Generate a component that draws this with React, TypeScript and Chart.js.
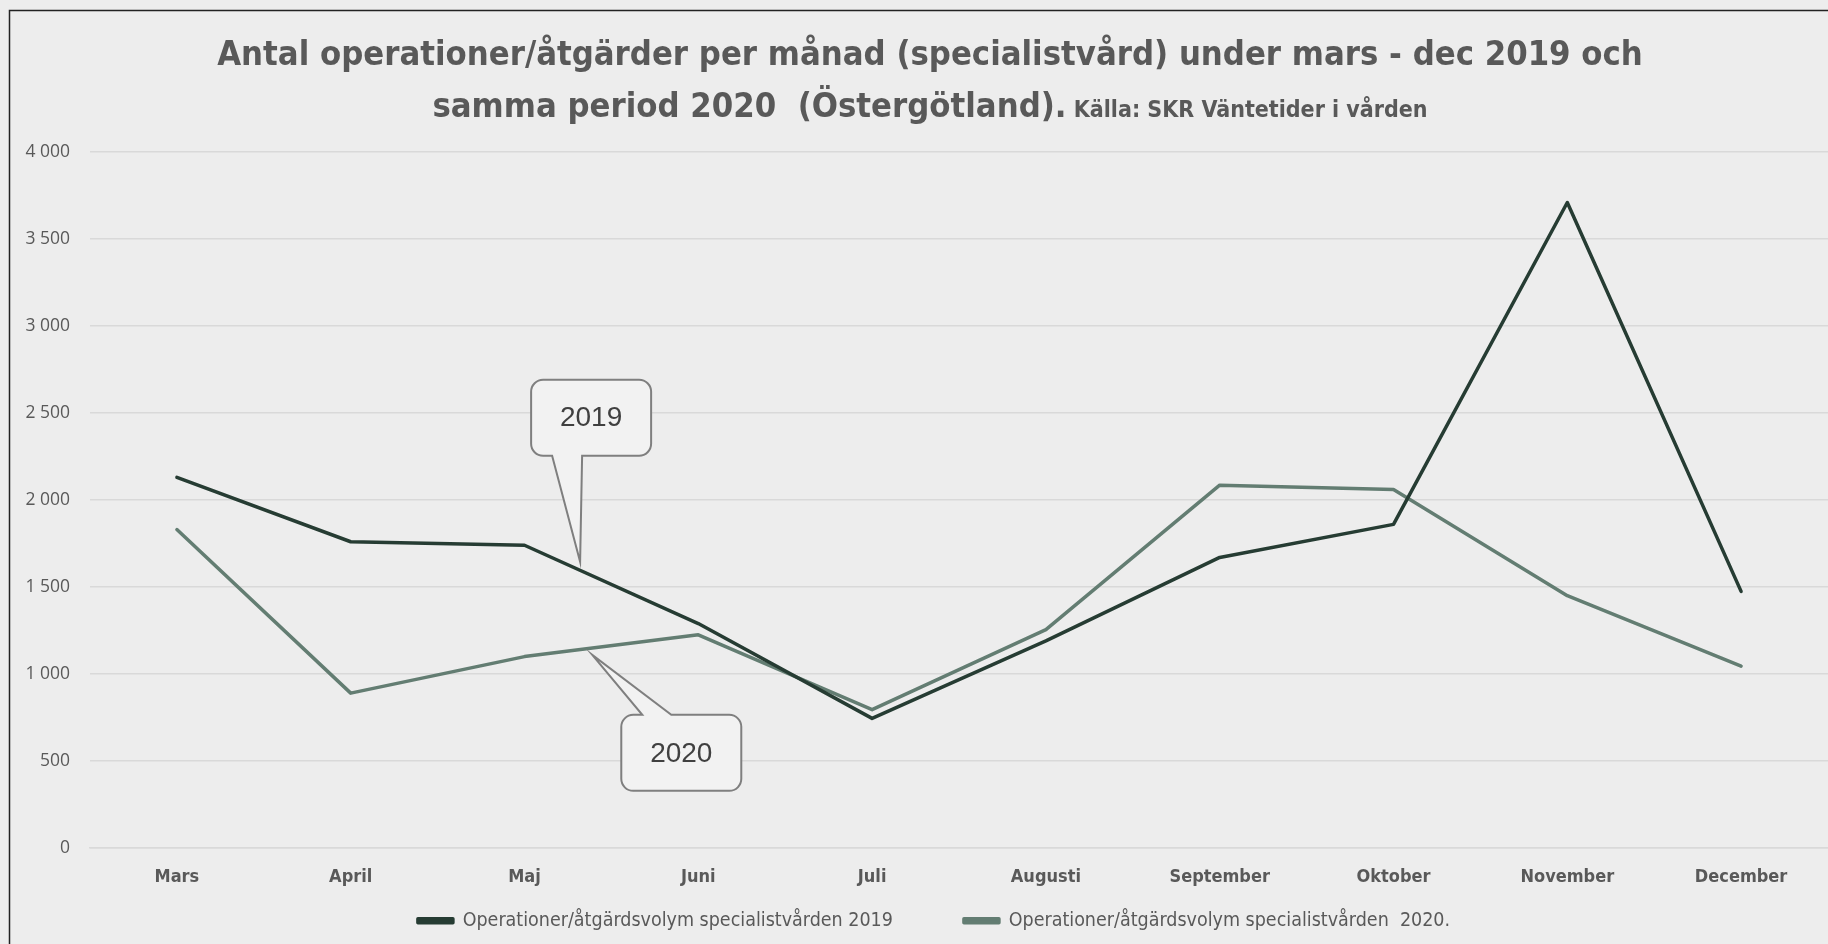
import React, { useEffect, useRef } from "react";
import { Chart, registerables } from "chart.js";

Chart.register(...registerables);

const months = ["Mars", "April", "Maj", "Juni", "Juli", "Augusti", "September", "Oktober", "November", "December"];
const values2019 = [2130, 1760, 1740, 1290, 745, 1190, 1670, 1860, 3710, 1475];
const values2020 = [1830, 890, 1100, 1225, 795, 1255, 2085, 2060, 1450, 1045];
const label2019 = "Operationer/åtgärdsvolym specialistvården 2019";
const label2020 = "Operationer/åtgärdsvolym specialistvården  2020.";
const titleLine1 = "Antal operationer/åtgärder per månad (specialistvård) under mars - dec 2019 och";
const titleLine2Main = "samma period 2020  (Östergötland).";
const titleLine2Source = " Källa: SKR Väntetider i vården";
// callouts: [text, anchor index, anchor value]
const callouts: [string, number, number][] = [
  ["2019", 2.32, 1645],
  ["2020", 2.39, 1110],
];

const COND = '"Liberation Sans Narrow", "DejaVu Sans Condensed", "Roboto Condensed", sans-serif';
const TEXT = "#595959";
const LEGEND_PAD = 71;

const legendFix = {
  id: "legendFix",
  beforeLayout(chart: any) {
    const lg = chart.legend;
    if (lg && !lg.__patched) {
      const orig = lg.fit;
      lg.fit = function () {
        orig.call(this);
        this.height = 48;
      };
      lg.__patched = true;
    }
  },
  afterLayout(chart: any) {
    const lg = chart.legend;
    if (!lg) return;
    // keep the legend row close to the axis labels; only the top edge moves
    lg.top -= LEGEND_PAD - 15;
    lg.left += 15;
    lg.right += 15;
  },
};

const decorPlugin = {
  id: "decor",
  beforeDraw(chart: any) {
    const ctx = chart.ctx as CanvasRenderingContext2D;
    ctx.save();
    ctx.fillStyle = "#ededed";
    ctx.fillRect(0, 0, chart.width, chart.height);
    ctx.strokeStyle = "#222";
    ctx.lineWidth = 1.5;
    ctx.beginPath();
    ctx.moveTo(9.5, chart.height + 5);
    ctx.lineTo(9.5, 10.5);
    ctx.lineTo(chart.width + 5, 10.5);
    ctx.stroke();
    ctx.restore();
  },
  afterDraw(chart: any) {
    const ctx = chart.ctx as CanvasRenderingContext2D;
    const cx = 930;
    ctx.save();
    ctx.fillStyle = TEXT;
    ctx.textAlign = "center";
    ctx.textBaseline = "alphabetic";
    const big = `bold 34.3px ${COND}`;
    const small = `bold 23px ${COND}`;
    ctx.font = big;
    ctx.fillText(titleLine1, cx, 65);
    const w1 = ctx.measureText(titleLine2Main).width;
    ctx.font = small;
    const w2 = ctx.measureText(titleLine2Source).width;
    const x0 = cx - (w1 + w2) / 2;
    ctx.textAlign = "left";
    ctx.font = big;
    ctx.fillText(titleLine2Main, x0, 117);
    ctx.font = small;
    ctx.fillText(titleLine2Source, x0 + w1, 117);

    // callouts
    const xs = chart.scales.x;
    const ys = chart.scales.y;
    callouts.forEach(([txt, idx, val], i) => {
      const tx = xs.getPixelForValue(idx);
      const ty = ys.getPixelForValue(val);
      const bw = 120, bh = 76, r = 12;
      let bx: number, by: number;
      ctx.beginPath();
      if (i === 0) {
        bx = tx - 49; by = ty - 182;
        const b1 = bx + 21, b2 = bx + 51, baseY = by + bh;
        ctx.moveTo(bx + r, by);
        ctx.lineTo(bx + bw - r, by);
        ctx.arcTo(bx + bw, by, bx + bw, by + r, r);
        ctx.lineTo(bx + bw, by + bh - r);
        ctx.arcTo(bx + bw, by + bh, bx + bw - r, by + bh, r);
        ctx.lineTo(b2, baseY);
        ctx.lineTo(tx, ty);
        ctx.lineTo(b1, baseY);
        ctx.lineTo(bx + r, by + bh);
        ctx.arcTo(bx, by + bh, bx, by + bh - r, r);
        ctx.lineTo(bx, by + r);
        ctx.arcTo(bx, by, bx + r, by, r);
      } else {
        bx = tx + 29; by = ty + 60;
        const b1 = bx + 21, b2 = bx + 50, baseY = by;
        ctx.moveTo(bx + r, by);
        ctx.lineTo(b1, baseY);
        ctx.lineTo(tx, ty);
        ctx.lineTo(b2, baseY);
        ctx.lineTo(bx + bw - r, by);
        ctx.arcTo(bx + bw, by, bx + bw, by + r, r);
        ctx.lineTo(bx + bw, by + bh - r);
        ctx.arcTo(bx + bw, by + bh, bx + bw - r, by + bh, r);
        ctx.lineTo(bx + r, by + bh);
        ctx.arcTo(bx, by + bh, bx, by + bh - r, r);
        ctx.lineTo(bx, by + r);
        ctx.arcTo(bx, by, bx + r, by, r);
      }
      ctx.closePath();
      ctx.fillStyle = "#f2f2f2";
      ctx.fill();
      ctx.strokeStyle = "#7f7f7f";
      ctx.lineWidth = 2;
      ctx.stroke();
      ctx.fillStyle = "#404040";
      ctx.font = '28px "Liberation Sans", Arial, sans-serif';
      ctx.textAlign = "center";
      ctx.textBaseline = "middle";
      ctx.fillText(txt, bx + bw / 2, by + bh / 2 + 1);
    });
    ctx.restore();
  },
};

export default function App() {
  const ref = useRef<HTMLCanvasElement>(null);
  useEffect(() => {
    document.body.style.margin = "0";
    const chart = new Chart(ref.current!, {
      type: "line",
      data: {
        labels: months,
        datasets: [
          {
            label: label2019,
            data: values2019,
            borderColor: "#263c33",
            backgroundColor: "#263c33",
            borderWidth: 3.5,
            pointRadius: 0,
            borderCapStyle: "round",
            borderJoinStyle: "round",
            tension: 0,
          },
          {
            label: label2020,
            data: values2020,
            borderColor: "#637d72",
            backgroundColor: "#637d72",
            borderWidth: 3.5,
            pointRadius: 0,
            borderCapStyle: "round",
            borderJoinStyle: "round",
            tension: 0,
          },
        ],
      },
      options: {
        animation: false,
        responsive: false,
        maintainAspectRatio: false,
        layout: { padding: { top: 152, left: 10, right: 0, bottom: 0 } },
        plugins: {
          title: { display: false },
          tooltip: { enabled: false },
          legend: {
            display: true,
            position: "bottom",
            labels: {
              boxWidth: 35,
              boxHeight: 4,
              padding: LEGEND_PAD,
              color: TEXT,
              font: { family: COND, size: 19.5 },
            },
          },
        },
        scales: {
          x: {
            offset: true,
            afterFit: (s: any) => { s.height = 48; },
            grid: { display: false, drawTicks: false },
            border: { display: true, color: "#d9d9d9", width: 1.5 },
            ticks: {
              color: TEXT,
              font: { family: COND, size: 18, weight: "bold" },
              padding: 19,
              maxRotation: 0,
              autoSkip: false,
            },
          },
          y: {
            min: 0,
            max: 4000,
            afterFit: (s: any) => { s.width = 80; },
            grid: { color: "#d9d9d9", lineWidth: 1.5, drawTicks: false },
            border: { display: false },
            ticks: {
              stepSize: 500,
              padding: 20,
              color: TEXT,
              font: { family: '"Open Sans", sans-serif', size: 17.5 },
              callback: (v: any) => Number(v).toLocaleString("sv-SE").replace(/\u00a0/g, " "),
            },
          },
        },
      },
      plugins: [legendFix, decorPlugin],
    });
    return () => chart.destroy();
  }, []);
  return (
    <div style={{ width: 1828, height: 944, overflow: "hidden" }}>
      <canvas ref={ref} width={1828} height={944} style={{ display: "block" }} />
    </div>
  );
}
